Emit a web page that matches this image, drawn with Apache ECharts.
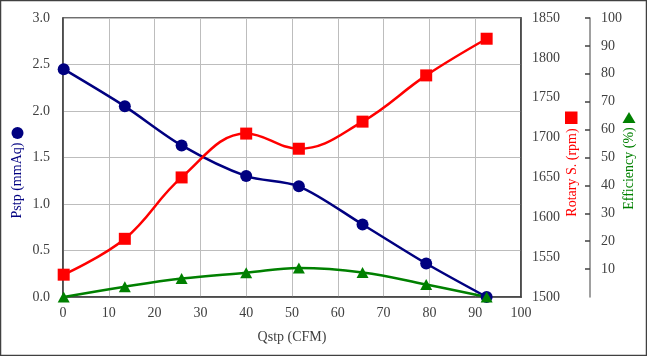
<!DOCTYPE html>
<html><head><meta charset="utf-8">
<script src="https://cdn.jsdelivr.net/npm/echarts@6/dist/echarts.min.js"></script>
<style>html,body{margin:0;padding:0;background:#fff}#c{width:647px;height:356px}</style>
</head><body><div id="c"></div>
<script>
const qstp = [0.15, 13.5, 25.9, 40.0, 51.5, 65.4, 79.3, 92.5];
const pstp = [2.45, 2.05, 1.63, 1.30, 1.19, 0.78, 0.36, 0.0];
const rpm = [1528, 1573, 1650, 1705, 1686, 1720, 1778, 1824];
const eff = [0, 3.7, 6.6, 8.7, 10.4, 8.8, 4.5, 0];

const FONT = '"Liberation Serif", "DejaVu Serif", serif';
const labelColor = '#404040';
const pair = (xs, ys) => xs.map((x, i) => [x, ys[i]]);

const chart = echarts.init(document.getElementById('c'));
chart.setOption({
  animation: false,
  backgroundColor: '#fff',
  grid: { left: 63, right: 126, top: 18, bottom: 59, show: true, borderColor: '#404040', borderWidth: 1.5 },
  xAxis: {
    type: 'value', min: 0, max: 100, interval: 10,
    axisLine: { show: true, onZero: false, lineStyle: { color: '#404040', width: 1.5 } },
    axisTick: { show: false },
    axisLabel: { color: labelColor, fontFamily: FONT, fontSize: 14, margin: 9 },
    splitLine: { show: true, lineStyle: { color: '#bdbdbd', width: 1 } },
    name: 'Qstp (CFM)', nameLocation: 'middle', nameGap: 33,
    nameTextStyle: { color: labelColor, fontFamily: FONT, fontSize: 14 }
  },
  yAxis: [
    {
      type: 'value', position: 'left', min: 0, max: 3, interval: 0.5,
      axisLine: { show: true, lineStyle: { color: '#404040', width: 1.5 } },
      axisTick: { show: false },
      axisLabel: { color: labelColor, fontFamily: FONT, fontSize: 14, margin: 13, formatter: v => v.toFixed(1) },
      splitLine: { show: true, lineStyle: { color: '#bdbdbd', width: 1 } }
    },
    {
      type: 'value', position: 'right', min: 1500, max: 1850, interval: 50,
      axisLine: { show: true, lineStyle: { color: '#404040', width: 1.5 } },
      axisTick: { show: false },
      axisLabel: { color: labelColor, fontFamily: FONT, fontSize: 14, margin: 11, formatter: v => String(v) },
      splitLine: { show: false }
    },
    {
      type: 'value', position: 'right', offset: 69, min: 0, max: 100, interval: 10,
      axisLine: { show: true, lineStyle: { color: '#808080', width: 1.5 } },
      axisTick: { show: true, inside: true, length: 5, lineStyle: { color: '#404040', width: 1.5 } },
      axisLabel: { color: labelColor, fontFamily: FONT, fontSize: 14, margin: 11, showMinLabel: false, formatter: v => v === 0 ? '' : String(v) },
      splitLine: { show: false }
    }
  ],
  series: [
    {
      name: 'Pstp', type: 'line', yAxisIndex: 0, data: pair(qstp, pstp), smooth: 0.3,
      symbol: 'circle', symbolSize: 12, clip: false,
      lineStyle: { color: '#000080', width: 2.5 }, itemStyle: { color: '#000080' }
    },
    {
      name: 'Rotary', type: 'line', yAxisIndex: 1, data: pair(qstp, rpm), smooth: 0.4,
      symbol: 'rect', symbolSize: 12, clip: false,
      lineStyle: { color: '#ff0000', width: 2.5 }, itemStyle: { color: '#ff0000' }
    },
    {
      name: 'Efficiency', type: 'line', yAxisIndex: 2, data: pair(qstp, eff), smooth: 0.4,
      symbol: 'triangle', symbolSize: [12, 11], clip: false,
      lineStyle: { color: '#008000', width: 2.5 }, itemStyle: { color: '#008000' }
    }
  ],
  graphic: [
    { type: 'rect', shape: { x: 0.5, y: 0.5, width: 646, height: 355 }, style: { fill: 'none', stroke: '#404040', lineWidth: 1.5 }, silent: true },
    { type: 'text', x: 17, y: 180.5, rotation: Math.PI / 2,
      style: { text: 'Pstp (mmAq)', fill: '#000080', font: '14px ' + FONT, textAlign: 'center', textVerticalAlign: 'middle' } },
    { type: 'circle', shape: { cx: 17.5, cy: 133, r: 6 }, style: { fill: '#000080' } },
    { type: 'text', x: 572.5, y: 172.5, rotation: Math.PI / 2,
      style: { text: 'Rotary S. (rpm)', fill: '#ff0000', font: '14px ' + FONT, textAlign: 'center', textVerticalAlign: 'middle' } },
    { type: 'rect', shape: { x: 565, y: 111.5, width: 12.5, height: 12.5 }, style: { fill: '#ff0000' } },
    { type: 'text', x: 629, y: 168.5, rotation: Math.PI / 2,
      style: { text: 'Efficiency (%)', fill: '#008000', font: '14px ' + FONT, textAlign: 'center', textVerticalAlign: 'middle' } },
    { type: 'polygon', shape: { points: [[629, 112], [635.5, 123], [622.5, 123]] }, style: { fill: '#008000' } }
  ]
});
</script></body></html>
